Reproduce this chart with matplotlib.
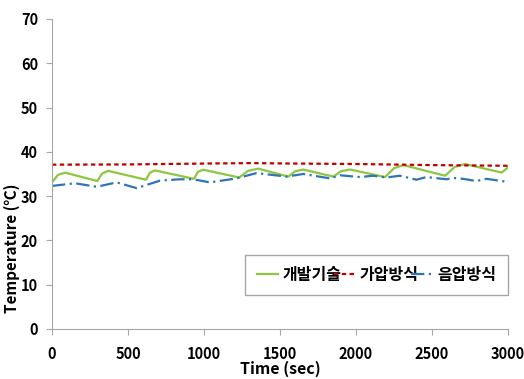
import matplotlib.pyplot as plt

plt.rcParams['font.family'] = ['Noto Sans CJK KR', 'DejaVu Sans']

# 개발기술 (green, sawtooth)
dev_t = [0, 40, 86, 298, 330, 370, 618, 645, 678, 934, 960, 996, 1232, 1290, 1357, 1555, 1600,
         1653, 1851, 1900, 1961, 2191, 2250, 2312, 2586, 2650, 2717, 2958, 3000]
dev_v = [33.1, 34.8, 35.3, 33.4, 35.1, 35.7, 33.7, 35.3, 35.8, 33.9, 35.5, 35.95, 34.2, 35.7, 36.2,
         34.4, 35.6, 36.0, 34.4, 35.6, 36.0, 34.3, 36.3, 37.0, 34.6, 36.6, 37.25, 35.3, 36.5]

# 가압방식 (red, dashed)
pos_t = [0, 500, 1000, 1300, 1600, 2000, 2500, 3000]
pos_v = [37.1, 37.15, 37.35, 37.45, 37.35, 37.25, 37.0, 36.85]

# 음압방식 (blue, dash-dot)
neg_t = [0, 151, 294, 425, 557, 711, 842, 930, 1039, 1214, 1346, 1543, 1653, 1829, 1895,
         2026, 2113, 2200, 2288, 2398, 2463, 2595, 2639, 2705, 2792, 2858, 2979, 3000]
neg_v = [32.3, 32.9, 32.1, 33.1, 31.8, 33.5, 33.8, 33.8, 33.1, 34.0, 35.2, 34.4, 35.0, 34.0, 34.7,
         34.3, 34.6, 34.2, 34.6, 33.7, 34.3, 33.8, 34.1, 33.9, 33.4, 33.9, 33.3, 33.6]

labels = ['개발기술', '가압방식', '음압방식']

fig = plt.figure(figsize=(5.24, 3.79), dpi=100)
ax = fig.add_axes([0.0992, 0.132, 0.8703, 0.818])

ax.plot(dev_t, dev_v, color='#8DC63F', lw=1.6, label=labels[0])
ax.plot(pos_t, pos_v, color='#C00000', lw=1.6, linestyle=(0, (2, 1.5)), label=labels[1])
ax.plot(neg_t, neg_v, color='#2E75B6', lw=1.6, linestyle=(0, (6, 2, 1, 2)), label=labels[2])

ax.set_xlim(0, 3000)
ax.set_ylim(0, 70)
ax.set_xticks(range(0, 3001, 500))
ax.set_yticks(range(0, 71, 10))

for s in ['top', 'right']:
    ax.spines[s].set_visible(False)
for s in ['left', 'bottom']:
    ax.spines[s].set_color('#A6A6A6')
ax.tick_params(colors='#A6A6A6', length=4, labelcolor='black', labelsize=10.5)
ax.tick_params(axis='x', pad=8)
ax.tick_params(axis='y', pad=6)
for lab in ax.get_xticklabels() + ax.get_yticklabels():
    lab.set_fontweight('bold')

ax.set_xlabel('Time (sec)', fontsize=11.5, fontweight='bold')
ax.xaxis.set_label_coords(0.5, -0.103)
ax.set_ylabel('Temperature (℃)', fontsize=11, fontweight='bold')
ax.yaxis.set_label_coords(-0.07, 0.26)

leg = ax.legend(loc='lower left', bbox_to_anchor=(0.423, 0.11, 0.577, 0.129), mode='expand',
                ncol=3, fancybox=False, edgecolor='#A6A6A6', framealpha=1,
                handlelength=1.3, handletextpad=0.3, columnspacing=0.8, borderaxespad=0,
                borderpad=0.75, prop={'weight': 'bold', 'size': 11.5})
leg.get_frame().set_linewidth(1.0)

fig.savefig('out.png', dpi=100)
